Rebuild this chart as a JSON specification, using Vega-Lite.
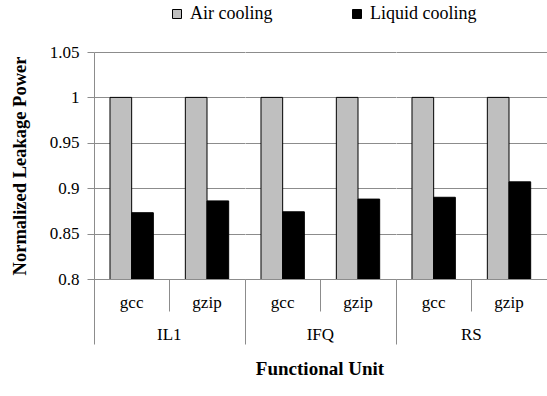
{
  "$schema": "https://vega.github.io/schema/vega-lite/v6.json",
  "padding": {"left": 10, "top": 5, "right": 0, "bottom": 2},
  "config": {"view": {"stroke": null}, "font": "Liberation Serif"},
  "data": {"values": [
    {"unit": "IL1", "bench": "gcc", "cooling": "Air cooling", "value": 1.0},
    {"unit": "IL1", "bench": "gcc", "cooling": "Liquid cooling", "value": 0.873},
    {"unit": "IL1", "bench": "gzip", "cooling": "Air cooling", "value": 1.0},
    {"unit": "IL1", "bench": "gzip", "cooling": "Liquid cooling", "value": 0.886},
    {"unit": "IFQ", "bench": "gcc", "cooling": "Air cooling", "value": 1.0},
    {"unit": "IFQ", "bench": "gcc", "cooling": "Liquid cooling", "value": 0.874},
    {"unit": "IFQ", "bench": "gzip", "cooling": "Air cooling", "value": 1.0},
    {"unit": "IFQ", "bench": "gzip", "cooling": "Liquid cooling", "value": 0.888},
    {"unit": "RS", "bench": "gcc", "cooling": "Air cooling", "value": 1.0},
    {"unit": "RS", "bench": "gcc", "cooling": "Liquid cooling", "value": 0.890},
    {"unit": "RS", "bench": "gzip", "cooling": "Air cooling", "value": 1.0},
    {"unit": "RS", "bench": "gzip", "cooling": "Liquid cooling", "value": 0.907}
  ]},
  "facet": {
    "column": {
      "field": "unit", "type": "nominal", "sort": ["IL1", "IFQ", "RS"],
      "header": {
        "labelOrient": "bottom", "labelFont": "Liberation Serif", "labelFontSize": 17,
        "labelColor": "black", "labelPadding": -18,
        "title": "Functional Unit", "titleOrient": "bottom", "titleFont": "Liberation Serif",
        "titleFontSize": 19, "titleFontWeight": "bold", "titleColor": "black", "titlePadding": 5
      }
    }
  },
  "spacing": 0,
  "spec": {
    "width": 150.67,
    "height": 227,
    "mark": {"type": "bar", "stroke": "black", "strokeWidth": 1, "clip": true},
    "encoding": {
      "x": {
        "field": "bench", "type": "nominal",
        "scale": {"paddingInner": 0, "paddingOuter": 0},
        "axis": {
          "title": null, "labelAngle": 0, "bandPosition": 0,
          "tickSize": 65,
          "tickDash": {"condition": {"test": "datum.value == 'gzip'", "value": [32, 60]}, "value": [65, 0]},
          "labelPadding": -50,
          "tickColor": "#8c8c8c", "domainColor": "#8c8c8c",
          "labelFont": "Liberation Serif", "labelFontSize": 17, "labelColor": "black"
        }
      },
      "xOffset": {
        "field": "cooling", "type": "nominal", "sort": ["Air cooling", "Liquid cooling"],
        "scale": {"paddingInner": 0, "paddingOuter": 0.738}
      },
      "y": {
        "field": "value", "type": "quantitative",
        "scale": {"domain": [0.8, 1.05], "zero": false, "nice": false},
        "axis": {
          "values": [0.8, 0.85, 0.9, 0.95, 1.0, 1.05], "format": "~g",
          "grid": true, "gridColor": "#8c8c8c", "domainColor": "#8c8c8c", "tickColor": "#8c8c8c",
          "tickSize": 7, "labelPadding": 8,
          "labelFont": "Liberation Serif", "labelFontSize": 17, "labelColor": "black",
          "title": "Normalized Leakage Power", "titleFont": "Liberation Serif", "titleFontSize": 18.5,
          "titleFontWeight": "bold", "titleColor": "black", "titlePadding": 20
        }
      },
      "color": {
        "field": "cooling", "type": "nominal",
        "scale": {"domain": ["Air cooling", "Liquid cooling"], "range": ["#bfbfbf", "#000000"]},
        "legend": {
          "title": null, "orient": "none", "legendX": 74, "legendY": -47, "direction": "horizontal",
          "symbolType": "square", "symbolSize": 81, "symbolStrokeColor": "black", "symbolStrokeWidth": 1,
          "labelFont": "Liberation Serif", "labelFontSize": 18, "labelColor": "black",
          "columnPadding": 75, "labelOffset": 4
        }
      }
    }
  }
}
